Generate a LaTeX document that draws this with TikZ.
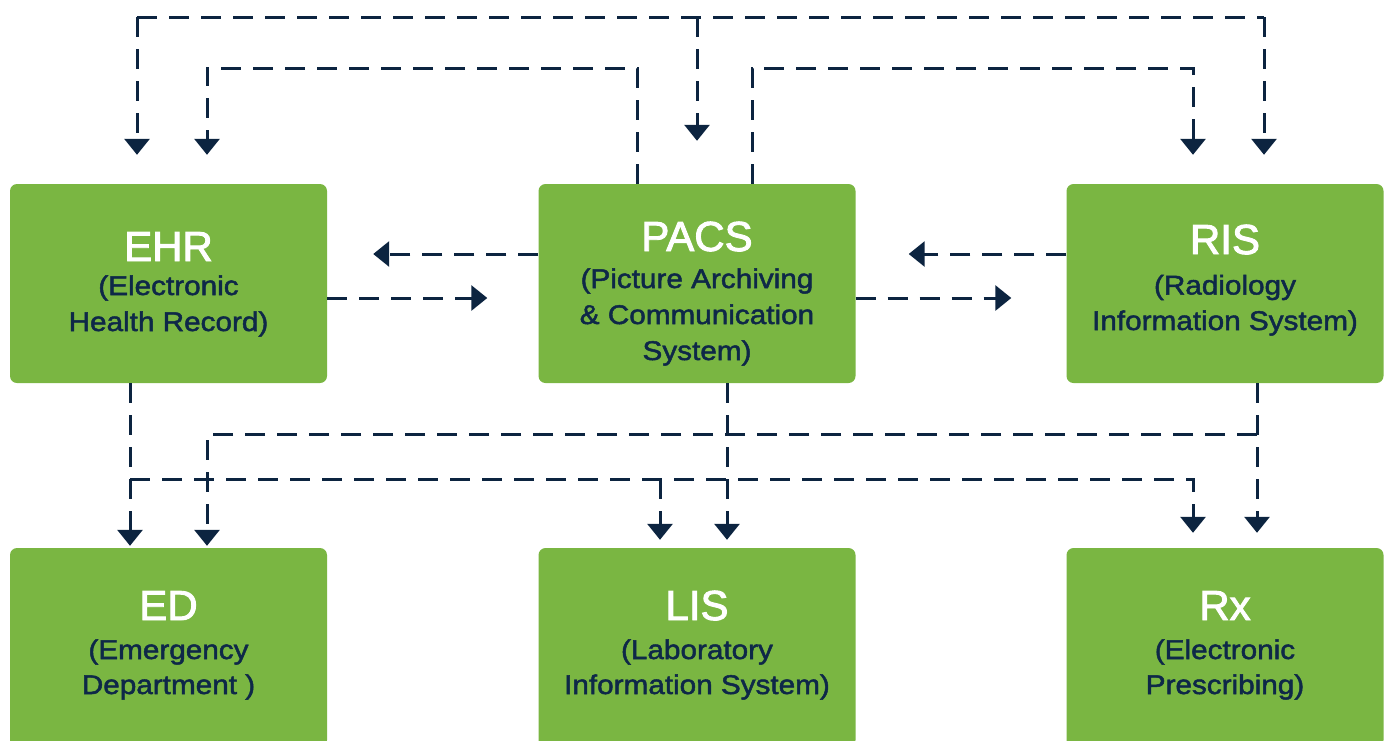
\documentclass[tikz,border=0pt]{standalone}
\usepackage{fontspec}
\setmainfont{Liberation Sans}
\newfontfamily\ttlfam[FakeBold=2.2]{Liberation Sans}
\newfontfamily\subfam[FakeStretch=1.1,FakeBold=1.8]{Liberation Sans}
\usetikzlibrary{arrows.meta,calc}

\definecolor{boxgreen}{RGB}{122,182,66}
\definecolor{textnavy}{RGB}{14,40,72}
\definecolor{linknavy}{RGB}{12,36,64}

\tikzset{
  sysbox/.style={fill=boxgreen, draw=none, rounded corners=7pt,
    minimum width=317pt, minimum height=199pt, inner sep=0pt},
  ttl/.style={anchor=base, text=white, inner sep=0pt,
    font=\ttlfam\fontsize{42}{42}\selectfont},
  sub/.style={anchor=base, text=textnavy, inner sep=0pt,
    font=\subfam\fontsize{27}{27}\selectfont},
  link/.style={draw=linknavy, line width=3pt, dash pattern=on 20pt off 12pt},
  arr/.style={link, -{Triangle[width=25pt,length=16pt]}},
}

\begin{document}
\begin{tikzpicture}[x=1pt,y=-1pt]
\useasboundingbox (0,0) rectangle (1389,740);
\clip (0,0) rectangle (1389,740);

% system boxes
\node[sysbox] (ehr)  at (168.5,283.5) {};
\node[sysbox] (pacs) at (697,283.5) {};
\node[sysbox] (ris)  at (1225,283.5) {};
\node[sysbox] (ed)   at (168.5,647.5) {};
\node[sysbox] (lis)  at (697,647.5) {};
\node[sysbox] (rx)   at (1225,647.5) {};

% box labels
\node[ttl] (ehr-t)  at (168.5,261) {EHR};
\node[sub] (ehr-s1) at (168.5,295) {(Electronic};
\node[sub] (ehr-s2) at (168.5,331) {Health Record)};

\node[ttl] (pacs-t)  at (697,251) {PACS};
\node[sub] (pacs-s1) at (697,288) {(Picture Archiving};
\node[sub] (pacs-s2) at (697,324) {\& Communication};
\node[sub] (pacs-s3) at (697,360) {System)};

\node[ttl] (ris-t)  at (1225,254) {RIS};
\node[sub] (ris-s1) at (1225,294.5) {(Radiology};
\node[sub] (ris-s2) at (1225,330) {Information System)};

\node[ttl] (ed-t)  at (168.5,620) {ED};
\node[sub] (ed-s1) at (168.5,659) {(Emergency};
\node[sub] (ed-s2) at (168.5,694) {Department )};

\node[ttl] (lis-t)  at (697,620) {LIS};
\node[sub] (lis-s1) at (697,659) {(Laboratory};
\node[sub] (lis-s2) at (697,694) {Information System)};

\node[ttl] (rx-t)  at (1225,620) {Rx};
\node[sub] (rx-s1) at (1225,659) {(Electronic};
\node[sub] (rx-s2) at (1225,694) {Prescribing)};

% top bus feeding EHR, PACS and RIS
\coordinate (busL) at (137,17);
\coordinate (busM) at (697,17);
\coordinate (busR) at (1264,17);
\draw[link] (busL) -- (busR);
\draw[arr, shorten >=29pt] (busL) -- (busL |- ehr.north);
\draw[arr, shorten >=43pt] (busM) -- (busM |- pacs.north);
\draw[arr, shorten >=29pt] (busR) -- (busR |- ris.north);

% PACS up-and-over links to EHR and RIS
\coordinate (pacsUL) at (637,68);
\coordinate (ehrUR) at (207,68);
\draw[arr, shorten >=29pt] (pacsUL |- pacs.north) -- (pacsUL) -- (ehrUR) -- (ehrUR |- ehr.north);
\coordinate (pacsUR) at (752,68);
\coordinate (risUL) at (1193,68);
\draw[arr, shorten >=29pt] (pacsUR |- pacs.north) -- (pacsUR) -- (risUL) -- (risUL |- ris.north);

% side-by-side exchanges
\coordinate (hiY) at (0,254);
\coordinate (loY) at (0,298);
\draw[arr, shorten >=46pt] (pacs.west |- hiY) -- (ehr.east |- hiY);
\draw[arr, shorten >=51pt] (ehr.east |- loY) -- (pacs.west |- loY);
\draw[arr, shorten >=53pt] (ris.west |- hiY) -- (pacs.east |- hiY);
\draw[arr, shorten >=55pt] (pacs.east |- loY) -- (ris.west |- loY);

% downward links to ED, LIS and Rx
\coordinate (ehrDrop) at (130,479);
\coordinate (lisDrop) at (660,479);
\coordinate (rxDrop)  at (1193,479);
\coordinate (pacsDrop) at (727,434);
\coordinate (risDrop) at (1257,434);
\coordinate (edDrop)  at (207,434);

\draw[arr, shorten >=2pt] (ehr.south -| ehrDrop) -- (ed.north -| ehrDrop);
\draw[arr, shorten >=15pt] (ehrDrop) -- (rxDrop) -- (rxDrop |- rx.north);
\draw[arr, shorten >=8pt] (lisDrop) -- (lisDrop |- lis.north);
\draw[arr, shorten >=8pt] (pacs.south -| pacsDrop) -- (lis.north -| pacsDrop);
\draw[arr, shorten >=15pt] (ris.south -| risDrop) -- (rx.north -| risDrop);
\draw[arr, shorten >=2pt] (risDrop) -- (edDrop) -- (edDrop |- ed.north);
\end{tikzpicture}
\end{document}
